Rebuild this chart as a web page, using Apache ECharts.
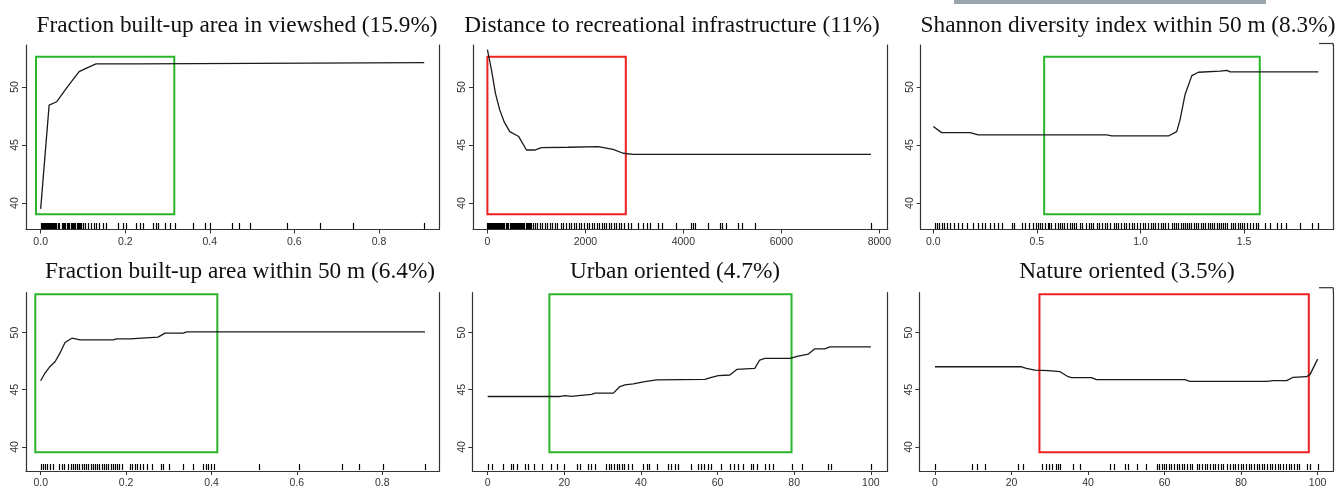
<!DOCTYPE html>
<html>
<head>
<meta charset="utf-8">
<script src="https://cdn.jsdelivr.net/npm/echarts@6/dist/echarts.min.js"></script>
<style>
  html, body { margin: 0; padding: 0; background: #fff; }
  #main { width: 1339px; height: 489px; }
</style>
</head>
<body>
<div id="main"></div>
<script>
// panel titles
const titles = [
  'Fraction built-up area in viewshed (15.9%)',
  'Distance to recreational infrastructure (11%)',
  'Shannon diversity index within 50 m (8.3%)',
  'Fraction built-up area within 50 m (6.4%)',
  'Urban oriented (4.7%)',
  'Nature oriented (3.5%)'
]

// partial dependence curves [x, y]
const viewshedLine = [[0, 39.5], [0.02, 48.44], [0.038, 48.73], [0.065, 50.09], [0.091, 51.32], [0.107, 51.61], [0.131, 51.99], [0.231, 51.99], [0.235, 52.1], [0.907, 52.1]]
const distanceLine = [[0, 53.23], [82, 51.5], [163, 49.48], [251, 48.03], [340, 47.02], [456, 46.16], [640, 45.73], [797, 44.57], [966, 44.57], [1103, 44.77], [1647, 44.81], [2260, 44.86], [2566, 44.63], [2770, 44.29], [2975, 44.2], [7830, 44.2]]
const shannonLine = [[0, 46.59], [0.04, 46.07], [0.177, 46.07], [0.217, 45.87], [0.837, 45.87], [0.861, 45.78], [1.135, 45.78], [1.175, 46.16], [1.191, 47.17], [1.215, 49.33], [1.248, 50.98], [1.28, 51.27], [1.384, 51.36], [1.417, 51.44], [1.433, 51.3], [1.859, 51.3]]
const built50Line = [[0, 45.79], [0.01, 46.46], [0.022, 47.04], [0.034, 47.47], [0.045, 48.2], [0.057, 49.13], [0.073, 49.51], [0.092, 49.36], [0.17, 49.36], [0.178, 49.45], [0.209, 49.45], [0.213, 49.6], [0.275, 49.6], [0.291, 49.95], [0.334, 49.95], [0.342, 50.06], [0.9, 50.06]]
const urbanLine = [[0, 44.41], [18.9, 44.41], [20.2, 44.49], [21.9, 44.41], [23.7, 44.49], [27.1, 44.6], [28, 44.7], [32.8, 44.7], [34.5, 45.28], [35.8, 45.42], [38, 45.51], [41, 45.71], [44.1, 45.86], [56.7, 45.91], [58.4, 46.09], [60.2, 46.23], [63.2, 46.29], [65, 46.78], [69.7, 46.87], [71, 47.6], [72.3, 47.74], [78.9, 47.74], [81, 47.94], [83.7, 48.12], [85.4, 48.58], [88, 48.58], [89.3, 48.75], [100, 48.75]]
const natureLine = [[0, 47.01], [22.6, 47.01], [23.9, 46.87], [26.1, 46.72], [29.6, 46.67], [32.7, 46.58], [34.8, 46.14], [35.7, 46.06], [40.9, 46.06], [42.2, 45.88], [65.3, 45.88], [66.6, 45.74], [86.7, 45.74], [88.4, 45.8], [91.9, 45.8], [93.6, 46.09], [97.1, 46.14], [98, 46.32], [100, 47.68]]

// rug (observed values)
const viewshedRug = [0, 0.002, 0.005, 0.007, 0.01, 0.012, 0.015, 0.017, 0.02, 0.022, 0.025, 0.027, 0.03, 0.032, 0.035, 0.037, 0.04, 0.042, 0.044,
  0.05, 0.052, 0.055, 0.057, 0.062, 0.064, 0.067, 0.071, 0.074, 0.076, 0.079, 0.081, 0.085, 0.088, 0.09, 0.093, 0.096, 0.099, 0.101,
  0.105, 0.1125, 0.118, 0.126, 0.132, 0.139, 0.147, 0.154, 0.183, 0.195, 0.202, 0.225, 0.235, 0.243, 0.265, 0.272, 0.278, 0.294, 0.306, 0.317,
  0.361, 0.388, 0.4, 0.452, 0.47, 0.495, 0.582, 0.66, 0.739, 0.907]
const distanceRug = [0, 15, 35, 55, 75, 95, 115, 135, 155, 175, 200, 220, 240, 260, 285, 305, 325, 345, 370, 390, 410, 430, 455, 475, 495, 520, 540, 560, 585, 605, 625, 650, 670, 690, 715, 735, 755, 780, 800, 820, 845, 864,
  898, 932, 980, 1021, 1069, 1116, 1171, 1225, 1273, 1320, 1375, 1430, 1498, 1545, 1614, 1661, 1716, 1770, 1818, 1866, 1920, 1975, 2023, 2070, 2125, 2180, 2227, 2274, 2329, 2383, 2431, 2478, 2533, 2587, 2635, 2682, 2737, 2791, 2873, 2941,
  3077, 3179, 3248, 3316, 3473, 3555, 3841, 4153, 4200, 4234, 4508, 4746, 4793, 4862, 5120, 5189, 5461, 7830]
const shannonRug = [0.008, 0.019, 0.029, 0.04, 0.052, 0.065, 0.081, 0.101, 0.118, 0.137, 0.161, 0.193, 0.217, 0.234, 0.25, 0.274, 0.293, 0.314, 0.333, 0.379, 0.39, 0.427, 0.443, 0.462, 0.481, 0.494, 0.504, 0.515, 0.526, 0.539, 0.552,
  0.56, 0.57, 0.585, 0.6, 0.61, 0.62, 0.63, 0.645, 0.66, 0.67, 0.68, 0.69, 0.71, 0.72, 0.735, 0.75, 0.76, 0.77, 0.79, 0.8, 0.815, 0.83, 0.84, 0.855, 0.87, 0.88, 0.89, 0.905, 0.92, 0.93, 0.945, 0.96, 0.97, 0.985,
  1.0, 1.01, 1.02, 1.035, 1.05, 1.06, 1.07, 1.085, 1.1, 1.11, 1.12, 1.135, 1.15, 1.16, 1.17, 1.18, 1.195, 1.205, 1.215, 1.225, 1.235, 1.245, 1.26, 1.27, 1.28, 1.29, 1.3, 1.31, 1.325, 1.335, 1.345, 1.355, 1.37, 1.38, 1.39, 1.4,
  1.41, 1.42, 1.435, 1.445, 1.455, 1.47, 1.48, 1.49, 1.5, 1.515, 1.53, 1.545, 1.56, 1.569, 1.602, 1.626, 1.658, 1.679, 1.701, 1.77, 1.827, 1.859]
const built50Rug = [0, 0.0046, 0.01, 0.0155, 0.0218, 0.028, 0.0437, 0.049, 0.0546, 0.0647, 0.07, 0.075, 0.0804, 0.0858, 0.0905, 0.096, 0.1014, 0.106, 0.1116, 0.117, 0.122, 0.127, 0.1326, 0.137, 0.143, 0.148, 0.153, 0.158, 0.164, 0.169, 0.174, 0.179, 0.184, 0.19,
  0.209, 0.215, 0.221, 0.226, 0.2325, 0.239, 0.248, 0.26, 0.281, 0.287, 0.301, 0.3325, 0.356, 0.381, 0.387, 0.3925, 0.4, 0.406, 0.512, 0.606, 0.705, 0.746, 0.802, 0.9]
const urbanRug = [0, 1, 4, 6, 6.7, 7.6, 9.7, 10.4, 12.2, 14.1, 16.5, 18, 20, 23.2, 24.1, 26.1, 27, 28, 31, 31.7, 32.3, 33, 33.7, 34.3, 35, 35.7, 36.5, 37.6, 40.6, 41.5, 42.1, 44.3, 47, 47.8, 48.9, 49.7,
  53, 55, 55.7, 56.5, 57.4, 58.4, 61, 63.2, 64.3, 65.4, 66.7, 68.7, 69.3, 70.2, 72.3, 73.4, 74.5, 79.3, 82.1, 88.9, 89.7, 100]
const natureRug = [0, 9.8, 10.9, 13.1, 21.8, 23.1, 27.9, 28.9, 29.8, 30.7, 31.5, 32.2, 32.8, 36, 37.9, 45.7, 46.8, 49.7, 50.5, 52.9, 55.1,
  57.9, 58.6, 59.2, 59.8, 60.5, 61.2, 61.8, 62.5, 63.2, 63.9, 64.5, 65.2, 65.9, 66.6, 67.3, 68.4, 69.1, 69.8, 70.5, 71.2, 71.9, 72.6, 73.3, 74, 74.7, 75.3,
  76.4, 77.1, 77.8, 78.5, 79.2, 79.9, 80.6, 81.3, 82, 82.7, 83.4, 84.1, 84.8, 85.5, 86.1, 86.8, 87.5, 88.2, 88.9, 89.6, 90.3, 91, 91.7, 92.4, 93.1, 93.8, 94.5, 95.2, 97.1, 98, 100]

// tick labels
const xTicks = [
  [0, 0.2, 0.4, 0.6, 0.8],
  [0, 2000, 4000, 6000, 8000],
  [0, 0.5, 1, 1.5],
  [0, 0.2, 0.4, 0.6, 0.8],
  [0, 20, 40, 60, 80, 100],
  [0, 20, 40, 60, 80, 100]
]
const yTicks = [40, 45, 50]

// highlight boxes [x0, x1, y0, y1]
const boxes = [
  [-0.011, 0.316, 39.03, 52.61],
  [0, 2825, 39.03, 52.61],
  [0.535, 1.576, 39.03, 52.61],
  [-0.0126, 0.4136, 39.53, 53.35],
  [16.1, 79.3, 39.53, 53.35],
  [27.3, 97.7, 39.53, 53.35]
]
const boxColors = ['#2bb52b', '#ee2020', '#2bb52b', '#2bb52b', '#2bb52b', '#ee2020']

const lines = [viewshedLine, distanceLine, shannonLine, built50Line, urbanLine, natureLine]
const rugs = [viewshedRug, distanceRug, shannonRug, built50Rug, urbanRug, natureRug]

// layout
const grids = [
  { left: 26, top: 45, width: 413, height: 184.5 },
  { left: 473, top: 45, width: 414.7, height: 184.5 },
  { left: 920.7, top: 45, width: 412.6, height: 184.5 },
  { left: 26, top: 292.7, width: 413.3, height: 178.8 },
  { left: 472.3, top: 292.7, width: 415.4, height: 178.8 },
  { left: 919.3, top: 292.7, width: 414, height: 178.8 }
]
const xRanges = [[-0.0347, 0.942], [-294, 8171], [-0.061, 1.931], [-0.0344, 0.9335], [-4.02, 104.4], [-4.1, 104.1]]
const yRanges = [[37.72, 53.62], [37.72, 53.62], [37.72, 53.62], [37.89, 53.49], [37.89, 53.49], [37.89, 53.49]]
const titlePos = [[232, 9], [667, 9], [1123, 9], [235, 255], [670, 255], [1122, 255]]
const decimals = [1, 0, 1, 1, 0, 0]

const axisColor = '#333'
const labelFont = { fontFamily: 'Liberation Sans', fontSize: 10.5, color: '#333' }

const chart = echarts.init(document.getElementById('main'))

const xAxis = []
const yAxis = []
const series = []
grids.forEach((g, i) => {
  xAxis.push({
    type: 'value',
    gridIndex: i,
    min: xRanges[i][0],
    max: xRanges[i][1],
    axisLine: { show: true, onZero: false, lineStyle: { color: axisColor, width: 1.2 } },
    axisTick: { show: true, length: 4, customValues: xTicks[i], lineStyle: { color: axisColor } },
    axisLabel: Object.assign({
      margin: 7,
      customValues: xTicks[i],
      formatter: v => Number(v).toFixed(decimals[i])
    }, labelFont),
    splitLine: { show: false }
  })
  yAxis.push({
    type: 'value',
    gridIndex: i,
    min: yRanges[i][0],
    max: yRanges[i][1],
    axisLine: { show: true, onZero: false, lineStyle: { color: axisColor, width: 1.2 } },
    axisTick: { show: true, length: 4, customValues: yTicks, lineStyle: { color: axisColor } },
    axisLabel: Object.assign({ rotate: 90, margin: 5, customValues: yTicks }, labelFont),
    splitLine: { show: false }
  })
  // right frame line
  yAxis.push({
    type: 'value',
    gridIndex: i,
    position: 'right',
    min: 0,
    max: 1,
    axisLine: { show: true, onZero: false, lineStyle: { color: axisColor, width: 1.2 } },
    axisTick: { show: false },
    axisLabel: { show: false },
    splitLine: { show: false }
  })
  const b = boxes[i]
  series.push({
    type: 'line',
    xAxisIndex: i,
    yAxisIndex: i * 2,
    data: lines[i],
    showSymbol: false,
    lineStyle: { color: '#1a1a1a', width: 1.3 },
    markArea: {
      silent: true,
      itemStyle: { color: 'rgba(0,0,0,0)', borderColor: boxColors[i], borderWidth: 2 },
      data: [[{ coord: [b[0], b[3]] }, { coord: [b[1], b[2]] }]]
    }
  })
  series.push({
    type: 'custom',
    xAxisIndex: i,
    yAxisIndex: i * 2,
    data: rugs[i].map(v => [v, yRanges[i][0]]),
    renderItem: (params, api) => {
      const p = api.coord([api.value(0), api.value(1)])
      const x = Math.round(p[0]) + 0.5
      const y = Math.round(p[1]) - 1
      return {
        type: 'line',
        shape: { x1: x, y1: y, x2: x, y2: y - 6 },
        style: { stroke: '#000', lineWidth: 1.2 }
      }
    }
  })
})

chart.setOption({
  animation: false,
  title: titles.map((t, i) => ({
    text: t,
    left: titlePos[i][0],
    top: titlePos[i][1],
    textAlign: 'center',
    textStyle: { fontFamily: 'Liberation Serif', fontSize: 23.3, fontWeight: 'normal', color: '#111' }
  })),
  grid: grids,
  xAxis: xAxis,
  yAxis: yAxis,
  series: series,
  graphic: [
    // grey strip at the top and the frame stubs at the right
    { type: 'rect', shape: { x: 954, y: 0, width: 312, height: 4 }, style: { fill: '#9aa6ae' } },
    { type: 'line', shape: { x1: 1319, y1: 43.5, x2: 1333.3, y2: 43.5 }, style: { stroke: axisColor, lineWidth: 1.2 } },
    { type: 'line', shape: { x1: 1333.3, y1: 43.5, x2: 1333.3, y2: 46 }, style: { stroke: axisColor, lineWidth: 1.2 } },
    { type: 'line', shape: { x1: 1319, y1: 287.7, x2: 1333.3, y2: 287.7 }, style: { stroke: axisColor, lineWidth: 1.2 } },
    { type: 'line', shape: { x1: 1333.3, y1: 287.7, x2: 1333.3, y2: 293 }, style: { stroke: axisColor, lineWidth: 1.2 } }
  ]
})
</script>
</body>
</html>
